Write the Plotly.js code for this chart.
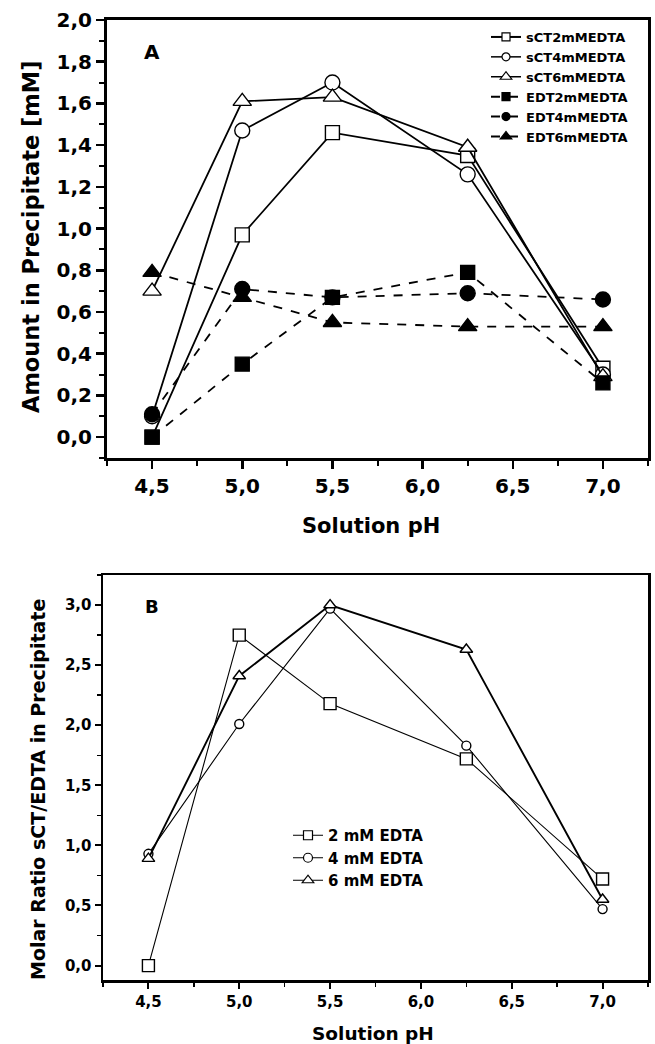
<!DOCTYPE html>
<html>
<head>
<meta charset="utf-8">
<script src="https://cdn.plot.ly/plotly-3.0.1.min.js"></script>
<style>html,body{margin:0;padding:0;background:#fff;}#chart{width:655px;height:1044px;}</style>
</head>
<body>
<div id="chart"></div>
<script>
// Panel A data
const phA = [4.5, 5.0, 5.5, 6.25, 7.0];
const sCT2 = [0.0, 0.97, 1.46, 1.35, 0.33];
const sCT4 = [0.10, 1.47, 1.70, 1.26, 0.30];
const sCT6 = [0.70, 1.61, 1.63, 1.39, 0.29];
const EDT2 = [0.0, 0.35, 0.67, 0.79, 0.26];
const EDT4 = [0.11, 0.71, 0.67, 0.69, 0.66];
const EDT6 = [0.79, 0.67, 0.55, 0.53, 0.53];
const namesA = ["sCT2mMEDTA", "sCT4mMEDTA", "sCT6mMEDTA", "EDT2mMEDTA", "EDT4mMEDTA", "EDT6mMEDTA"];

// Panel B data
const phB = [4.5, 5.0, 5.5, 6.25, 7.0];
const ratio2 = [0.0, 2.75, 2.18, 1.72, 0.72];
const ratio4 = [0.93, 2.01, 2.97, 1.83, 0.47];
const ratio6 = [0.89, 2.41, 3.0, 2.63, 0.55];
const namesB = ["2 mM EDTA", "4 mM EDTA", "6 mM EDTA"];

const F = "DejaVu Sans, sans-serif";

function tr(x, y, name, sym, filled, dash, xa, ya, size, lw, leg, legSize, legLw) {
  const main = {
    x: x, y: y, name: name, type: 'scatter', mode: 'lines+markers',
    xaxis: xa, yaxis: ya, showlegend: false,
    line: {color: '#000', width: lw, dash: dash},
    marker: {symbol: sym, size: size, color: filled ? '#000' : '#fff',
             line: {color: '#000', width: 1.4}}
  };
  // legend-only entry with the same style but smaller marker
  const key = {
    x: [null], y: [null], name: name, type: 'scatter', mode: 'lines+markers',
    xaxis: xa, yaxis: ya, legend: leg, showlegend: true,
    line: {color: '#000', width: legLw, dash: dash},
    marker: {symbol: sym, size: legSize, color: filled ? '#000' : '#fff',
             line: {color: '#000', width: 1.2}}
  };
  return [main, key];
}

const data = [].concat(
  tr(phA, sCT2, namesA[0], 'square', false, 'solid', 'x', 'y', 14, 1.8, 'legend', 8, 2),
  tr(phA, sCT4, namesA[1], 'circle', false, 'solid', 'x', 'y', 15, 1.8, 'legend', 8, 1.5),
  tr(phA, sCT6, namesA[2], 'triangle-up', false, 'solid', 'x', 'y', 16, 1.8, 'legend', 10, 1.5),
  tr(phA, EDT2, namesA[3], 'square', true, 'dash', 'x', 'y', 14, 1.8, 'legend', 8, 2),
  tr(phA, EDT4, namesA[4], 'circle', true, 'dash', 'x', 'y', 15, 1.8, 'legend', 8, 2),
  tr(phA, EDT6, namesA[5], 'triangle-up', true, 'dash', 'x', 'y', 16, 1.8, 'legend', 10, 2),
  tr(phB, ratio2, namesB[0], 'square', false, 'solid', 'x2', 'y2', 12, 1.1, 'legend2', 9, 1),
  tr(phB, ratio4, namesB[1], 'circle', false, 'solid', 'x2', 'y2', 9, 1.1, 'legend2', 9, 1),
  tr(phB, ratio6, namesB[2], 'triangle-up', false, 'solid', 'x2', 'y2', 11, 1.9, 'legend2', 10, 1)
);

const W = 655, H = 1044;
const axBase = {
  showline: true, linecolor: '#000', mirror: true, ticks: 'outside', tickcolor: '#000',
  showgrid: false, zeroline: false, automargin: false, tickformat: '.1f'
};

function ann(text, x, y, size, angle) {
  return {text: '<b>' + text + '</b>', xref: 'paper', yref: 'paper', x: x / W, y: 1 - y / H,
          xanchor: 'center', yanchor: 'middle', showarrow: false, textangle: angle || 0,
          font: {size: size, family: F, color: '#000'}};
}

const layout = {
  width: W, height: H, margin: {l: 0, r: 0, t: 0, b: 0},
  paper_bgcolor: '#fff', plot_bgcolor: '#fff', separators: ',.',
  font: {family: F, color: '#000'},
  showlegend: true,
  xaxis: Object.assign({}, axBase, {
    domain: [107/W, 648/W], anchor: 'y', range: [4.25, 7.25], dtick: 0.5, tick0: 4.5,
    linewidth: 3, ticklen: 8, tickwidth: 2.5,
    minor: {dtick: 0.25, tick0: 4.5, ticklen: 5, tickwidth: 2, ticks: 'outside', tickcolor: '#000'},
    tickfont: {size: 20, family: F, weight: 'bold'}
  }),
  yaxis: Object.assign({}, axBase, {
    domain: [1 - 458/H, 1 - 20/H], anchor: 'x', range: [-0.1, 2.0], dtick: 0.2, tick0: 0,
    linewidth: 3, ticklen: 8, tickwidth: 2.5,
    minor: {dtick: 0.1, tick0: 0, ticklen: 5, tickwidth: 2, ticks: 'outside', tickcolor: '#000'},
    tickfont: {size: 20, family: F, weight: 'bold'}
  }),
  xaxis2: Object.assign({}, axBase, {
    domain: [103/W, 648/W], anchor: 'y2', range: [4.25, 7.25], dtick: 0.5, tick0: 4.5,
    linewidth: 2.5, ticklen: 6, tickwidth: 2,
    minor: {dtick: 0.25, tick0: 4.5, ticklen: 4, tickwidth: 1.5, ticks: 'outside', tickcolor: '#000'},
    tickfont: {size: 15, family: F, weight: 'bold'}
  }),
  yaxis2: Object.assign({}, axBase, {
    domain: [1 - 980/H, 1 - 575/H], anchor: 'x2', range: [-0.12, 3.25], dtick: 0.5, tick0: 0,
    linewidth: 2.5, ticklen: 6, tickwidth: 2,
    minor: {dtick: 0.25, tick0: 0, ticklen: 4, tickwidth: 1.5, ticks: 'outside', tickcolor: '#000'},
    tickfont: {size: 15, family: F, weight: 'bold'}
  }),
  legend: {
    x: 486/W, y: 1 - 22/H, xanchor: 'left', yanchor: 'top', bgcolor: 'rgba(0,0,0,0)',
    font: {size: 13, family: F, weight: 'bold'}, tracegroupgap: 0, itemwidth: 30
  },
  legend2: {
    x: 288/W, y: 1 - 819/H, xanchor: 'left', yanchor: 'top', bgcolor: 'rgba(0,0,0,0)',
    font: {size: 15, family: F, weight: 'bold'}, tracegroupgap: 0, itemwidth: 30
  },
  annotations: [
    ann('A', 152, 52, 20),
    ann('B', 152, 606, 18),
    ann('Amount in Precipitate [mM]', 31, 237, 22.5, -90),
    ann('Solution pH', 371, 526, 21),
    ann('Molar Ratio sCT/EDTA in Precipitate', 38, 790, 19, -90),
    ann('Solution pH', 373, 1033, 18.5)
  ]
};

Plotly.newPlot('chart', data, layout, {displayModeBar: false, staticPlot: true});
</script>
</body>
</html>
